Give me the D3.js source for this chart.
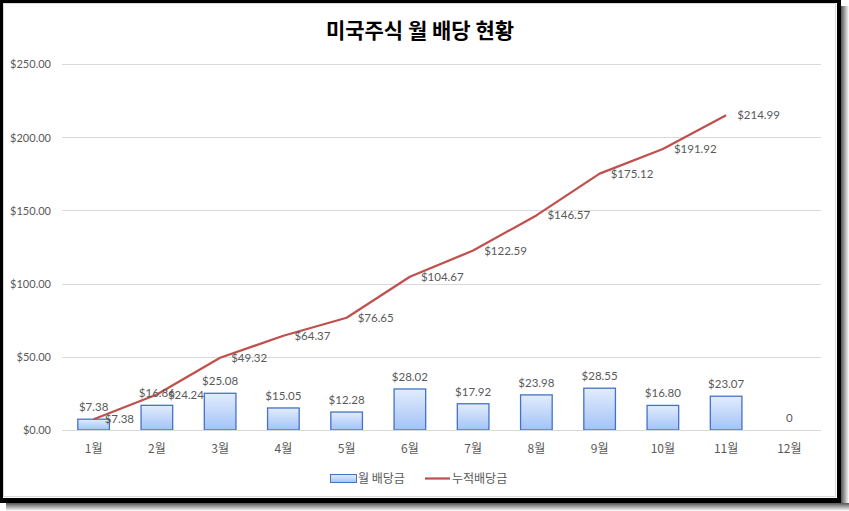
<!DOCTYPE html>
<html><head><meta charset="utf-8">
<script src="https://cdn.jsdelivr.net/npm/d3@7/dist/d3.min.js"></script>
<style>
html,body{margin:0;padding:0;background:#fff;}
svg{display:block;}
</style></head>
<body>
<svg id="chart" width="849" height="511"></svg>
<script>
const title = "미국주식 월 배당 현황";
const months = ["1월","2월","3월","4월","5월","6월","7월","8월","9월","10월","11월","12월"];
const monthly = [7.38, 16.86, 25.08, 15.05, 12.28, 28.02, 17.92, 23.98, 28.55, 16.80, 23.07, 0];
const monthlyLabels = ["$7.38","$16.86","$25.08","$15.05","$12.28","$28.02","$17.92","$23.98","$28.55","$16.80","$23.07","0"];
const cumulative = [7.38, 24.24, 49.32, 64.37, 76.65, 104.67, 122.59, 146.57, 175.12, 191.92, 214.99];
const yTicks = [0, 50, 100, 150, 200, 250];
const seriesNames = ["월 배당금", "누적배당금"];

const svg = d3.select("#chart");
const numFont = "Lato, 'Noto Sans', sans-serif";
const krFont = "'Noto Sans CJK KR', 'Noto Sans', sans-serif";
const txtColor = "#595959";

const defs = svg.append("defs");
const g1 = defs.append("linearGradient").attr("id","barGrad").attr("x1",0).attr("y1",0).attr("x2",0).attr("y2",1);
g1.append("stop").attr("offset","0%").attr("stop-color","#e2ecfd");
g1.append("stop").attr("offset","100%").attr("stop-color","#a3c3f6");
const gs = defs.append("linearGradient").attr("id","shR").attr("x1",0).attr("y1",0).attr("x2",1).attr("y2",0);
gs.append("stop").attr("offset","0%").attr("stop-color","#555");
gs.append("stop").attr("offset","100%").attr("stop-color","#fff");
const gb = defs.append("linearGradient").attr("id","shB").attr("x1",0).attr("y1",0).attr("x2",0).attr("y2",1);
gb.append("stop").attr("offset","0%").attr("stop-color","#555");
gb.append("stop").attr("offset","100%").attr("stop-color","#fff");

svg.append("rect").attr("x",841).attr("y",6).attr("width",8).attr("height",505).attr("fill","url(#shR)");
svg.append("rect").attr("x",6).attr("y",503).attr("width",843).attr("height",8).attr("fill","url(#shB)");
svg.append("rect").attr("x",0).attr("y",0).attr("width",841).attr("height",503).attr("fill","#000");
svg.append("rect").attr("x",3).attr("y",3).attr("width",834).attr("height",495).attr("fill","#fff");
svg.append("rect").attr("x",3.5).attr("y",3.5).attr("width",832).attr("height",493)
  .attr("fill","none").attr("stroke","#d9d9d9").attr("stroke-width",1);

const x = d3.scaleBand().domain(months).range([62, 821]).paddingInner(0.5).paddingOuter(0.25);
const xc = d => x(d) + x.bandwidth()/2;
const y = d3.scaleLinear().domain([0, 250]).range([430, 64]);

svg.append("g").selectAll("line").data(yTicks.filter(t=>t>0)).join("line")
  .attr("x1",62).attr("x2",821)
  .attr("y1",d=>Math.round(y(d))+0.5).attr("y2",d=>Math.round(y(d))+0.5)
  .attr("stroke","#d9d9d9").attr("stroke-width",1);

const yAxis = d3.axisLeft(y).tickValues(yTicks).tickSize(0).tickPadding(0)
  .tickFormat(d => "$" + d3.format(".2f")(d));
const ya = svg.append("g").attr("transform","translate(51,0)").call(yAxis);
ya.select(".domain").remove();
ya.selectAll("text").attr("font-family",numFont).attr("font-size","11px").attr("fill",txtColor).attr("dy","0.35em");

svg.append("g").selectAll("rect").data(monthly).join("rect")
  .attr("x",(d,i)=>x(months[i]))
  .attr("y",d=>y(d))
  .attr("width",x.bandwidth())
  .attr("height",d=>y(0)-y(d))
  .attr("fill","url(#barGrad)")
  .attr("stroke",d=>d>0?"#4472c4":"none").attr("stroke-width",1.3);

svg.append("line").attr("x1",62).attr("x2",821).attr("y1",430.5).attr("y2",430.5)
  .attr("stroke","#d9d9d9").attr("stroke-width",1);

const xAxis = d3.axisBottom(x).tickSize(0).tickPadding(0);
const xa = svg.append("g").attr("transform","translate(0,449)").call(xAxis);
xa.select(".domain").remove();
xa.selectAll("text").attr("font-family",krFont).attr("font-size","12px").attr("fill",txtColor).attr("dy","0.35em");

const line = d3.line().x((d,i)=>xc(months[i])).y(d=>y(d));
svg.append("path").datum(cumulative).attr("d",line)
  .attr("fill","none").attr("stroke","#c0504d").attr("stroke-width",2.25).attr("stroke-linejoin","round");

svg.append("g").selectAll("text").data(monthly).join("text")
  .attr("x",(d,i)=>xc(months[i]))
  .attr("y",d=>y(d)-12)
  .attr("dy","0.35em")
  .attr("text-anchor","middle")
  .attr("font-family",numFont).attr("font-size","11.5px").attr("fill",txtColor)
  .text((d,i)=>monthlyLabels[i]);

svg.append("g").selectAll("text").data(cumulative).join("text")
  .attr("x",(d,i)=>xc(months[i])+11)
  .attr("y",d=>y(d))
  .attr("dy","0.35em")
  .attr("font-family",numFont).attr("font-size","11.5px").attr("fill",txtColor)
  .text(d=>"$" + d3.format(".2f")(d));

svg.append("text").attr("x",420).attr("y",31).attr("dy","0.35em").attr("text-anchor","middle")
  .attr("font-family",krFont).attr("font-weight","bold").attr("font-size","21px").attr("fill","#000")
  .text(title);

const lg = svg.append("g");
lg.append("rect").attr("x",330.5).attr("y",474.5).attr("width",26).attr("height",8)
  .attr("fill","url(#barGrad)").attr("stroke","#4472c4").attr("stroke-width",1);
lg.append("text").attr("x",358).attr("y",479).attr("dy","0.35em")
  .attr("font-family",krFont).attr("font-size","12px").attr("fill",txtColor).text(seriesNames[0]);
lg.append("line").attr("x1",425).attr("x2",450).attr("y1",478.5).attr("y2",478.5)
  .attr("stroke","#c0504d").attr("stroke-width",2.25);
lg.append("text").attr("x",452).attr("y",479).attr("dy","0.35em")
  .attr("font-family",krFont).attr("font-size","12px").attr("fill",txtColor).text(seriesNames[1]);
</script>
</body></html>
